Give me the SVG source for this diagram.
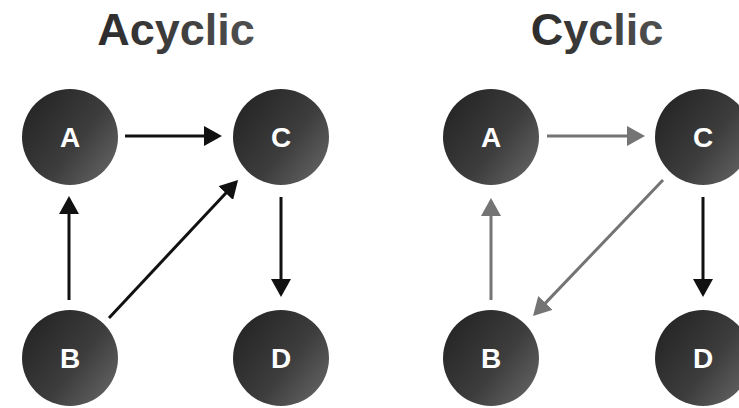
<svg xmlns="http://www.w3.org/2000/svg" width="739" height="408" viewBox="0 0 739 408">
  <defs>
    <linearGradient id="nodeFill" x1="0.1" y1="0.15" x2="1" y2="0.85">
      <stop offset="0" stop-color="#262626"/>
      <stop offset="0.55" stop-color="#3d3d3d"/>
      <stop offset="1" stop-color="#646464"/>
    </linearGradient>
    <linearGradient id="titleFill" x1="0" y1="0" x2="1" y2="0">
      <stop offset="0" stop-color="#2c2c2c"/>
      <stop offset="1" stop-color="#505050"/>
    </linearGradient>
    <marker id="headDark" viewBox="0 0 18 20" refX="14" refY="10" markerWidth="18" markerHeight="20" markerUnits="userSpaceOnUse" orient="auto">
      <path d="M0,0 L18,10 L0,20 z" fill="#111"/>
    </marker>
    <marker id="headGray" viewBox="0 0 18 20" refX="14" refY="10" markerWidth="18" markerHeight="20" markerUnits="userSpaceOnUse" orient="auto">
      <path d="M0,0 L18,10 L0,20 z" fill="#747474"/>
    </marker>
  </defs>
  <style>
    .title { font-family: "Liberation Sans", Arial, sans-serif; font-weight: bold; font-size: 45px; fill: url(#titleFill); text-anchor: middle; }
    .node circle { fill: url(#nodeFill); }
    .node text { font-family: "Liberation Sans", Arial, sans-serif; font-weight: bold; font-size: 28px; fill: #fff; text-anchor: middle; }
    .dark { stroke: #111; stroke-width: 3; fill: none; marker-end: url(#headDark); }
    .gray { stroke: #747474; stroke-width: 3; fill: none; marker-end: url(#headGray); }
  </style>
  <rect width="739" height="408" fill="#fff"/>

  <text class="title" x="176" y="45">Acyclic</text>
  <text class="title" x="597" y="45">Cyclic</text>

  <!-- connectors: each line stops 4px short of its arrow tip -->
  <g id="connectors">
    <!-- acyclic graph -->
    <line class="dark" x1="125" y1="136" x2="218" y2="136"/>
    <line class="dark" x1="69" y1="300" x2="69" y2="200"/>
    <line class="dark" x1="109" y1="318" x2="235.3" y2="182.9"/>
    <line class="dark" x1="281" y1="197" x2="281" y2="293"/>
    <!-- cyclic graph -->
    <line class="gray" x1="547" y1="136" x2="641" y2="136"/>
    <line class="gray" x1="491" y1="300" x2="491" y2="202"/>
    <line class="gray" x1="663" y1="180" x2="535.8" y2="313.1"/>
    <line class="dark" x1="703" y1="197" x2="703" y2="293"/>
  </g>

  <!-- acyclic nodes -->
  <g id="acyclic-A" class="node"><circle cx="70" cy="137" r="48"/><text x="70" y="147">A</text></g>
  <g id="acyclic-C" class="node"><circle cx="281" cy="137" r="48"/><text x="281" y="147">C</text></g>
  <g id="acyclic-B" class="node"><circle cx="70" cy="358" r="48"/><text x="70" y="368">B</text></g>
  <g id="acyclic-D" class="node"><circle cx="281" cy="358" r="48"/><text x="281" y="368">D</text></g>

  <!-- cyclic nodes -->
  <g id="cyclic-A" class="node"><circle cx="491" cy="137" r="48"/><text x="491" y="147">A</text></g>
  <g id="cyclic-C" class="node"><circle cx="703" cy="137" r="48"/><text x="703" y="147">C</text></g>
  <g id="cyclic-B" class="node"><circle cx="491" cy="358" r="48"/><text x="491" y="368">B</text></g>
  <g id="cyclic-D" class="node"><circle cx="703" cy="358" r="48"/><text x="703" y="368">D</text></g>
</svg>
